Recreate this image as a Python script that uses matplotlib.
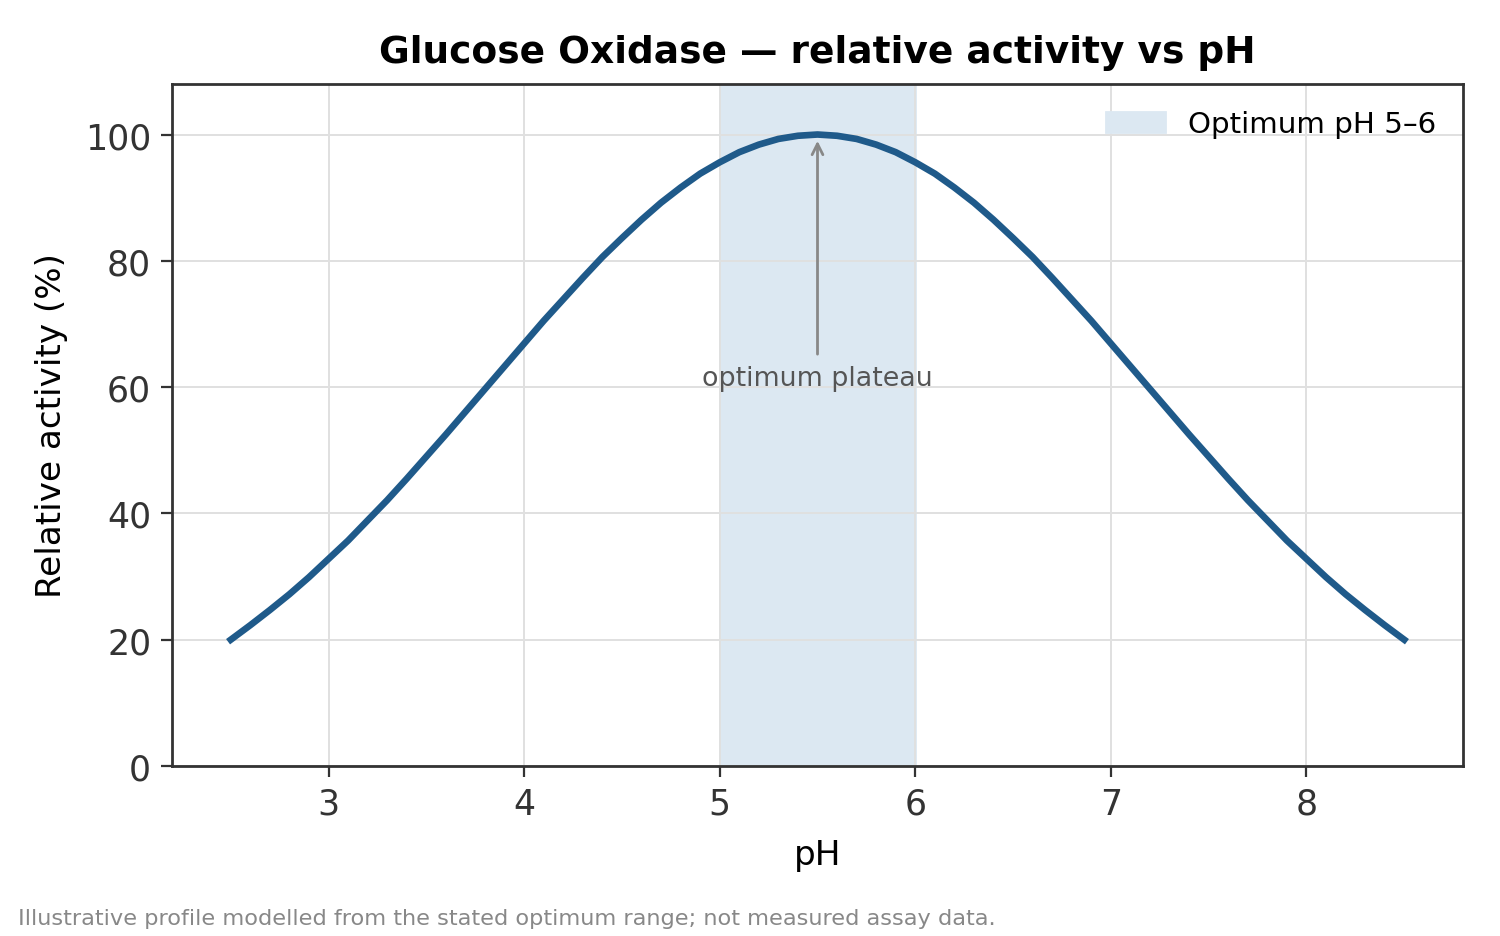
import numpy as np
import matplotlib.pyplot as plt

# values (pH 2.5 .. 8.5, step 0.1)
ph = [round(2.5 + 0.1 * i, 1) for i in range(61)]
left_half = [20.0, 22.3, 24.7, 27.2, 29.9, 32.8, 35.7, 38.9, 42.1, 45.5,
             49.0, 52.5, 56.1, 59.7, 63.3, 66.9, 70.5, 73.9, 77.3, 80.6,
             83.6, 86.5, 89.2, 91.6, 93.8, 95.6, 97.2, 98.4, 99.3, 99.8]
peak = [100.0]
right_half = [99.8, 99.3, 98.4, 97.2, 95.6, 93.8, 91.6, 89.2, 86.5, 83.6,
              80.6, 77.3, 73.9, 70.5, 66.9, 63.3, 59.7, 56.1, 52.5, 49.0,
              45.5, 42.1, 38.9, 35.7, 32.8, 29.9, 27.2, 24.7, 22.3, 20.0]
activity = left_half + peak + right_half
opt_lo, opt_hi = 5.0, 6.0
xticks = [3, 4, 5, 6, 7, 8]
yticks = [0, 20, 40, 60, 80, 100]

fig = plt.figure(figsize=(7.5, 4.685), dpi=200)
ax = fig.add_axes([0.1147, 0.1814, 0.8606, 0.7279])

ax.axvspan(opt_lo, opt_hi, color='#dce8f2', zorder=0, label='Optimum pH 5\u20136')
ax.grid(True, color='#e0e0e0', lw=0.7, zorder=0.5)
ax.plot(ph, activity, color='#1f5a8a', lw=2.4, zorder=3)

ax.annotate('optimum plateau', xy=(5.5, 99), xytext=(5.5, 61.4),
            ha='center', va='center', fontsize=9.7, color='#555555',
            arrowprops=dict(arrowstyle='->', color='#888888', lw=1, shrinkB=0))

ax.set_xlim(2.2, 8.8)
ax.set_ylim(0, 108)
ax.set_xticks(xticks)
ax.set_yticks(yticks)
ax.tick_params(labelsize=12.5, colors='#333333', length=4, width=0.8)
for s in ax.spines.values():
    s.set_color('#333333')
    s.set_linewidth(1.0)

ax.set_xlabel('pH', fontsize=12.3, labelpad=6)
ax.set_ylabel('Relative activity (%)', fontsize=12.3, labelpad=6)
ax.set_title('Glucose Oxidase \u2014 relative activity vs pH', fontsize=13.5,
             fontweight='bold', pad=8)

ax.legend(loc='upper right', frameon=False, fontsize=10.6)

fig.text(0.012, 0.009, 'Illustrative profile modelled from the stated optimum range; not measured assay data.',
         fontsize=8.1, color='#888888', ha='left', va='bottom')

fig.savefig('out.png', dpi=200)
